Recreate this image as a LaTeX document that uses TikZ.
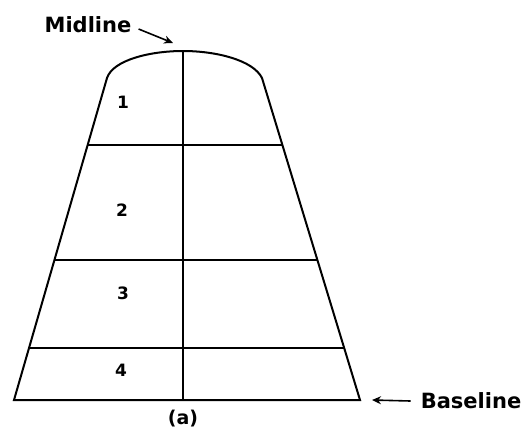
\documentclass[tikz,border=0pt]{standalone}
\usepackage{fontspec}
\setmainfont{DejaVu Sans}
\usetikzlibrary{arrows.meta}
\usetikzlibrary{positioning, calc}

\begin{document}
\begin{tikzpicture}[x=1pt,y=-1pt]
\tikzset{outline/.style={black,line width=2pt},
 divider/.style={black,line width=1.6pt},
 lbl/.style={font=\bfseries\fontsize{21}{24}\selectfont,inner sep=0pt},
 num/.style={font=\bfseries\fontsize{17}{20}\selectfont,inner sep=0pt},
 pointer/.style={-{Stealth[length=9pt,width=8pt]},line width=1.6pt}}
\useasboundingbox (0,0) rectangle (521,440);
% corners of the shape
\coordinate (TL) at (107,78);
\coordinate (TR) at (262,78);
\coordinate (BL) at (14,400);
\coordinate (BR) at (360,400);
\coordinate (top) at (183,51);
\coordinate (bot) at (183,400);
% outline
\draw[outline] (BL) -- (TL) .. controls (113,60) and (150,51) .. (top)
 .. controls (216,51) and (253,60) .. (TR) -- (BR) -- cycle;
\draw[divider] (top) -- (bot);
% cross lines
\draw[divider] ($(TL)!0.208!(BL)$) -- ($(TR)!0.208!(BR)$);
\draw[divider] ($(TL)!0.565!(BL)$) -- ($(TR)!0.565!(BR)$);
\draw[divider] ($(TL)!0.839!(BL)$) -- ($(TR)!0.839!(BR)$);
% zone numbers
\node[num] (n1) at (123,102) {1};
\node[num] (n2) at (122,210) {2};
\node[num] (n3) at (123,293) {3};
\node[num] (n4) at (121,370) {4};
% labels
\node[lbl] (mid) at (88,25) {Midline};
\node[lbl] (base) at (471,401) {Baseline};
\node[lbl,font=\bfseries\fontsize{19}{22}\selectfont] (cap) at (183,419) {(a)};
\draw[pointer] (mid.east) ++(7,4) -- ($(top)+(-10,-8)$);
\draw[pointer] (base.west) ++(-10,0) -- ($(BR)+(12,0)$);
\end{tikzpicture}
\end{document}
